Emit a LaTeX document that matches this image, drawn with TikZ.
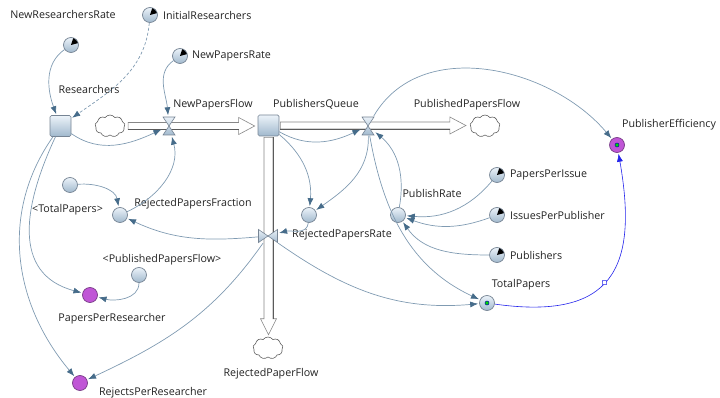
\documentclass[tikz,border=0pt]{standalone}
\usepackage{fontspec}
\setmainfont{Open Sans}
\usetikzlibrary{positioning, arrows.meta, calc, shapes.symbols}

\definecolor{linkc}{RGB}{128,155,178}
\definecolor{headc}{RGB}{70,108,138}
\definecolor{auxline}{RGB}{118,132,148}
\definecolor{auxtop}{RGB}{236,243,249}
\definecolor{auxbot}{RGB}{160,184,205}
\definecolor{purp}{RGB}{192,86,214}
\definecolor{purpline}{RGB}{120,60,135}
\definecolor{txt}{RGB}{35,35,35}
\definecolor{effc}{RGB}{35,35,235}
\definecolor{pipec}{RGB}{135,135,135}
\definecolor{pipedark}{RGB}{90,90,90}

\newcommand{\pipeh}[2]{%
  \draw[pipe] let \p1=(#1), \p2=(#2) in
    (\x1,\y1+3.5pt) -- (\x2-16pt,\y1+3.5pt) -- (\x2-16pt,\y1+8.5pt) -- (\x2,\y1)
    -- (\x2-16pt,\y1-8.5pt) -- (\x2-16pt,\y1-3.5pt) -- (\x1,\y1-3.5pt) -- cycle
    (\x1,\y1-3.5pt) edge[pipeedge] (\x2-16pt,\y1-3.5pt);}
\newcommand{\pipev}[2]{%
  \draw[pipe] let \p1=(#1), \p2=(#2) in
    (\x1-4.5pt,\y1) -- (\x1-4.5pt,\y2+16pt) -- (\x1-8pt,\y2+16pt) -- (\x1,\y2)
    -- (\x1+8pt,\y2+16pt) -- (\x1+4.5pt,\y2+16pt) -- (\x1+4.5pt,\y1) -- cycle
    (\x1+4.5pt,\y1) edge[pipeedge] (\x1+4.5pt,\y2+16pt);}

\begin{document}
\begin{tikzpicture}[x=1pt, y=-1pt, font=\fontsize{10.7}{12}\selectfont,
  aux/.style={circle, draw=auxline, line width=0.7pt, top color=auxtop, bottom color=auxbot, minimum size=15pt, inner sep=0pt},
  const/.style={aux, path picture={\fill[black] (path picture bounding box.center) -- ++(15:9pt) arc[start angle=15, end angle=72, radius=9pt] -- cycle;}},
  outp/.style={circle, draw=purpline, line width=0.7pt, fill=purp, minimum size=15pt, inner sep=0pt},
  dot/.style={path picture={\filldraw[fill=green!85!black, draw=blue!70!black, line width=0.5pt] (path picture bounding box.center) circle (2pt);}},
  stock/.style={rectangle, rounded corners=1.5pt, draw=auxline, line width=0.7pt, top color=auxtop, bottom color=auxbot, minimum size=21pt, inner sep=0pt},
  cloudy/.style={cloud, cloud puffs=9, cloud puff arc=110, aspect=1.4, draw=gray!75!black, line width=0.6pt, fill=white, minimum width=30pt, minimum height=22pt, inner sep=0pt},
  valveh/.style={minimum width=13pt, minimum height=19pt, inner sep=0pt, path picture={
    \draw[draw=auxline, line width=0.6pt, top color=auxtop, bottom color=auxbot]
      ($(path picture bounding box.north west)+(0.5pt,-0.5pt)$) -- ($(path picture bounding box.north east)+(-0.5pt,-0.5pt)$) -- (path picture bounding box.center) -- cycle
      ($(path picture bounding box.south west)+(0.5pt,0.5pt)$) -- ($(path picture bounding box.south east)+(-0.5pt,0.5pt)$) -- (path picture bounding box.center) -- cycle;}},
  valvev/.style={minimum width=20pt, minimum height=14pt, inner sep=0pt, path picture={
    \draw[draw=auxline, line width=0.6pt, top color=auxtop, bottom color=auxbot]
      ($(path picture bounding box.north west)+(0.5pt,-0.5pt)$) -- ($(path picture bounding box.south west)+(0.5pt,0.5pt)$) -- (path picture bounding box.center) -- cycle
      ($(path picture bounding box.north east)+(-0.5pt,-0.5pt)$) -- ($(path picture bounding box.south east)+(-0.5pt,0.5pt)$) -- (path picture bounding box.center) -- cycle;}},
  pipe/.style={draw=pipec, fill=white, line width=0.6pt},
  pipeedge/.style={draw=pipedark, line width=0.9pt},
  lbl/.style={text=txt, inner sep=0pt, anchor=base},
  link/.style={draw=linkc, line width=0.7pt, shorten >=1pt, -{Latex[length=8pt, width=6pt, color=headc]}},
  eff/.style={draw=effc, line width=0.6pt, shorten >=1pt, -{Latex[length=8pt, width=6pt]}},
  flowmark/.style={draw=effc, fill=white, line width=0.5pt, inner sep=0pt, minimum size=4pt, sloped, rotate=45}]
  \useasboundingbox (0,0) rectangle (720,398);

  \node[stock] (res) at (60.5,126) {};
  \node[stock] (pq) at (268.5,125.5) {};
  \node[cloudy] (cl1) at (110,126) {};
  \node[cloudy] (cl2) at (485,126) {};
  \node[cloudy] (cl3) at (268,348) {};

  \pipeh{[xshift=3pt]cl1.east}{[xshift=-3pt]pq.west}
  \pipeh{[xshift=1pt]pq.east}{[xshift=-4pt]cl2.west}
  \pipev{[yshift=-1pt]pq.south}{[yshift=2pt]cl3.north}

  \node[valveh] (npf) at (169,126) {};
  \node[valveh] (ppf) at (368,126) {};
  \node[valvev] (rpfv) at (268,236) {};

  \node[const] (nrr) at (71,45) {};
  \node[const] (ir) at (150,15) {};
  \node[const] (npr) at (180,56) {};
  \node[const] (ppi) at (497,175) {};
  \node[const] (ipp) at (497,215) {};
  \node[const] (pub) at (497,255) {};
  \node[aux] (tps) at (70,185) {};
  \node[aux] (rpf) at (120,215) {};
  \node[aux] (ppfs) at (139,275) {};
  \node[aux] (rpr) at (309,215) {};
  \node[aux] (pr) at (398,215) {};
  \node[aux, dot] (tp) at (487,303) {};
  \node[outp] (ppr) at (90,295) {};
  \node[outp] (rej) at (80,383) {};
  \node[outp, dot] (pe) at (617,145) {};

  \node[lbl] (nrrL) at (63,19) {NewResearchersRate};
  \node[lbl, right=5pt of ir] (irL) {InitialResearchers};
  \node[lbl, right=4pt of npr] (nprL) {NewPapersRate};
  \node[lbl] (resL) at (89,94) {Researchers};
  \node[lbl] (npfL) at (213,108) {NewPapersFlow};
  \node[lbl] (pqL) at (316,108) {PublishersQueue};
  \node[lbl] (ppfL) at (467,108) {PublishedPapersFlow};
  \node[lbl] (peL) at (669,128) {PublisherEfficiency};
  \node[lbl, right=5pt of ppi] (ppiL) {PapersPerIssue};
  \node[lbl, right=5pt of ipp] (ippL) {IssuesPerPublisher};
  \node[lbl, right=5pt of pub] (pubL) {Publishers};
  \node[lbl] (tpL) at (521,287) {TotalPapers};
  \node[lbl] (prL) at (432,197) {PublishRate};
  \node[lbl] (rprL) at (342,237) {RejectedPapersRate};
  \node[lbl] (rpfL) at (193,207) {RejectedPapersFraction};
  \node[lbl] (tpsL) at (67.5,213) {<TotalPapers>};
  \node[lbl] (ppfsL) at (162,262) {<PublishedPapersFlow>};
  \node[lbl] (pprL) at (112,321) {PapersPerResearcher};
  \node[lbl] (rejL) at (153,395) {RejectsPerResearcher};
  \node[lbl] (rpfwL) at (271,376) {RejectedPaperFlow};

  \draw[link] (nrr) to[out=215, in=110] (res);
  \draw[link, dash pattern=on 3pt off 2pt] (ir) to[out=-95, in=35] (res);
  \draw[link] (npr) to[out=215, in=95] (npf);
  \draw[link] (res) to[out=-35, in=205] (npf);
  \draw[link] (rpf) to[out=25, in=-75] (npf);
  \draw[link] (pq) to[out=-30, in=205] (ppf);
  \draw[link] (pq) to[out=-40, in=85] (rpr);
  \draw[link] (ppf) to[out=-88, in=35] (rpr);
  \draw[link] (pr) to[out=80, in=-40] (ppf);
  \draw[link] (ppi) to[out=230, in=-5] (pr);
  \draw[link] (ipp) to[out=200, in=-20] (pr);
  \draw[link] (pub) to[out=180, in=-55] (pr);
  \draw[link] (ppf) to[out=-80, in=155] (tp);
  \draw[link] (ppf) to[out=60, in=130] (pe);
  \draw[eff] (tp) to[out=-8, in=-80, looseness=1.55] node[flowmark, pos=0.47] (mk) {} (pe);
  \draw[link] (tps) to[out=5, in=100] (rpf);
  \draw[link] (rpfv) to[out=185, in=-25] (rpf);
  \draw[link] (rpr) to[out=-95, in=15] (rpfv);
  \draw[link] (rpfv) to[out=-35, in=185] (tp);
  \draw[link] (res) to[out=245, in=165, looseness=1.2] (ppr);
  \draw[link] (res) to[out=235, in=130] (rej);
  \draw[link] (ppfs) to[out=-90, in=-15] (ppr);
  \draw[link] (rpfv) to[out=235, in=25] (rej);
\end{tikzpicture}
\end{document}
